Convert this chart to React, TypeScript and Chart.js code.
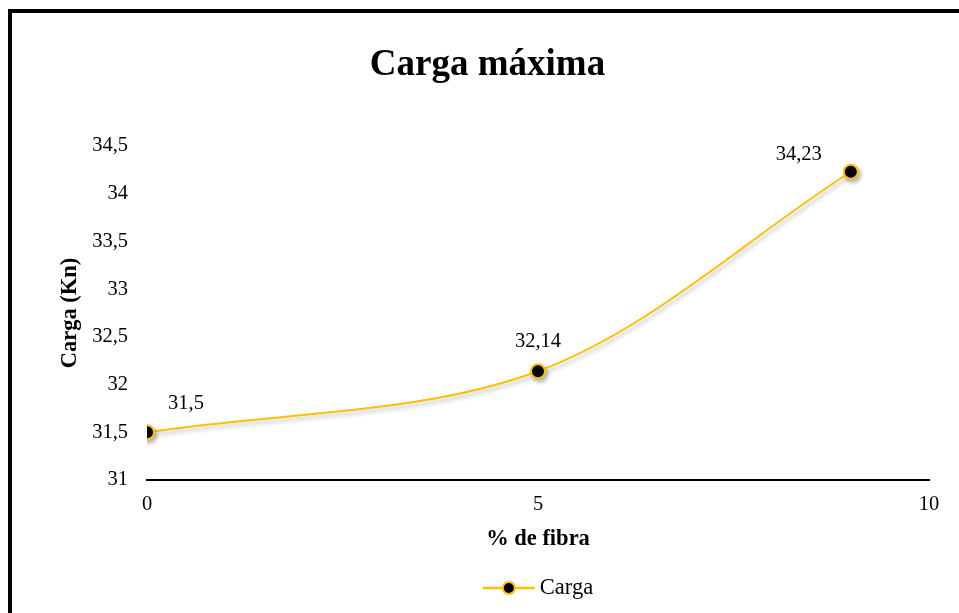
import React, { useEffect, useRef } from "react";
import { Chart, registerables } from "chart.js";

Chart.register(...registerables);

// Series data
const fiberPercent = [0, 5, 9];
const maxLoad = [31.5, 32.14, 34.23];
const seriesLabel = "Carga";

// Axis tick ranges
const yTickMin = 31;
const yTickMax = 34.5;
const yTickStep = 0.5;
const xTickMin = 0;
const xTickMax = 10;
const xTickStep = 5;

const chartTitle = "Carga máxima";
const xAxisTitle = "% de fibra";
const yAxisTitle = "Carga (Kn)";

const GOLD = "#FFC000";
const FONT = "'Liberation Serif', 'Times New Roman', serif";

const toComma = (v: number | string) => String(v).replace(".", ",");

// Nudges for the value labels, relative to each point (px)
const LABEL_NUDGE: [number, number][] = [
  [39, -29],
  [0, -30],
  [-52, -17],
];

const shadowPlugin = {
  id: "lineShadow",
  beforeDatasetsDraw(chart: any) {
    const ctx = chart.ctx;
    ctx.save();
    ctx.shadowColor = "rgba(0,0,0,0.28)";
    ctx.shadowBlur = 4;
    ctx.shadowOffsetX = 2;
    ctx.shadowOffsetY = 3;
  },
  afterDatasetsDraw(chart: any) {
    chart.ctx.restore();
  },
};

const valueLabelPlugin = {
  id: "valueLabels",
  afterDatasetsDraw(chart: any) {
    const ctx = chart.ctx;
    const meta = chart.getDatasetMeta(0);
    const data = chart.data.datasets[0].data as { x: number; y: number }[];
    ctx.save();
    ctx.font = `20.5px ${FONT}`;
    ctx.fillStyle = "#000";
    ctx.textAlign = "center";
    ctx.textBaseline = "middle";
    meta.data.forEach((pt: any, i: number) => {
      const [dx, dy] = LABEL_NUDGE[i] || [0, -30];
      ctx.fillText(toComma(data[i].y), pt.x + dx, pt.y + dy);
    });
    ctx.restore();
  },
};

const lineLegendPlugin = {
  id: "lineLegend",
  afterDraw(chart: any) {
    const ctx = chart.ctx;
    const ds = chart.data.datasets[0];
    const area = chart.chartArea;
    const lineLen = 52;
    const gap = 5;
    ctx.save();
    ctx.font = `22.5px ${FONT}`;
    const textW = ctx.measureText(ds.label).width;
    const total = lineLen + gap + textW;
    const cx = (area.left + area.right) / 2;
    const x0 = cx - total / 2;
    const y = 588;
    ctx.strokeStyle = GOLD;
    ctx.lineWidth = 2.5;
    ctx.beginPath();
    ctx.moveTo(x0, y);
    ctx.lineTo(x0 + lineLen, y);
    ctx.stroke();
    ctx.beginPath();
    ctx.arc(x0 + lineLen / 2, y, 6, 0, Math.PI * 2);
    ctx.fillStyle = "#000";
    ctx.fill();
    ctx.lineWidth = 2;
    ctx.strokeStyle = GOLD;
    ctx.stroke();
    ctx.fillStyle = "#000";
    ctx.textAlign = "left";
    ctx.textBaseline = "middle";
    ctx.fillText(ds.label, x0 + lineLen + gap, y);
    ctx.restore();
  },
};

export default function App() {
  const canvasRef = useRef<HTMLCanvasElement | null>(null);

  useEffect(() => {
    if (!canvasRef.current) return;
    const chart = new Chart(canvasRef.current, {
      type: "line",
      data: {
        datasets: [
          {
            label: seriesLabel,
            data: fiberPercent.map((x, i) => ({ x, y: maxLoad[i] })),
            borderColor: GOLD,
            borderWidth: 2,
            tension: 0.33,
            pointRadius: 7,
            pointHoverRadius: 7,
            pointBackgroundColor: "#000",
            pointBorderColor: GOLD,
            pointBorderWidth: 2,
            fill: false,
          },
        ],
      },
      options: {
        responsive: false,
        animation: false,
        layout: { padding: { left: 46, right: 30, top: 0, bottom: 53 } },
        plugins: {
          legend: { display: false },
          tooltip: { enabled: false },
          title: {
            display: true,
            text: chartTitle,
            color: "#000",
            font: { family: FONT, size: 37, weight: "bold" },
            padding: { top: 43.3, bottom: 58.3 },
          },
        },
        scales: {
          x: {
            type: "linear",
            min: xTickMin,
            max: xTickMax,
            grid: { display: false, drawTicks: false },
            border: { display: true, color: "#000", width: 2 },
            ticks: {
              stepSize: xTickStep,
              color: "#000",
              padding: 12.7,
              font: { family: FONT, size: 20.5 },
              callback: (v: any) => toComma(v),
            },
            title: {
              display: true,
              text: xAxisTitle,
              color: "#000",
              font: { family: FONT, size: 22.5, weight: "bold" },
              padding: { top: 0, bottom: 6.9 },
            },
            afterFit: (scale: any) => {
              scale.height = 80;
            },
          },
          y: {
            min: yTickMin,
            max: yTickMax,
            grid: { display: false, drawTicks: false },
            border: { display: false },
            ticks: {
              stepSize: yTickStep,
              color: "#000",
              padding: 19,
              font: { family: FONT, size: 20.5 },
              callback: (v: any) => toComma(v),
            },
            title: {
              display: true,
              text: yAxisTitle,
              color: "#000",
              font: { family: FONT, size: 22.5, weight: "bold" },
              padding: { top: 10.5, bottom: 0 },
            },
            afterFit: (scale: any) => {
              scale.width = 101;
            },
          },
        },
      },
      plugins: [shadowPlugin, valueLabelPlugin, lineLegendPlugin],
    });
    return () => chart.destroy();
  }, []);

  return (
    <div
      style={{
        position: "fixed",
        left: 0,
        top: 0,
        width: 959,
        height: 613,
        overflow: "hidden",
        background: "#fff",
      }}
    >
      <div
        style={{
          position: "absolute",
          left: 8,
          top: 9,
          width: 1000,
          height: 700,
          borderTop: "4px solid #000",
          borderLeft: "4px solid #000",
        }}
      />
      <canvas
        ref={canvasRef}
        width={959}
        height={613}
        style={{ position: "absolute", left: 0, top: 0, width: 959, height: 613 }}
      />
    </div>
  );
}
